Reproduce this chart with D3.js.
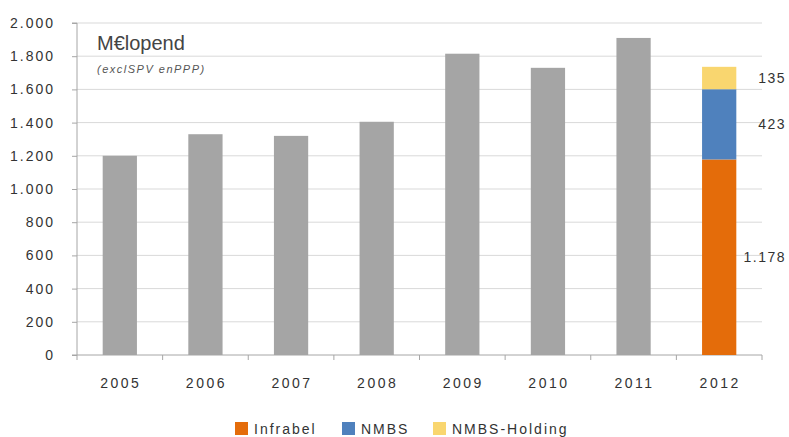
<!DOCTYPE html>
<html>
<head>
<meta charset="utf-8">
<script src="https://cdn.jsdelivr.net/npm/d3@7"></script>
<style>
  body { margin: 0; background: #fff; }
  svg { font-family: 'Liberation Sans', Arial, sans-serif; }
  .axis text { fill: #333; font-size: 14px; letter-spacing: 2px; }
  .grid line { stroke: #d9d9d9; }
</style>
</head>
<body>
<svg width="789" height="437"></svg>
<script>
'use strict';

// data
var years = ['2005', '2006', '2007', '2008', '2009', '2010', '2011', '2012'];
var totals = [1200, 1330, 1320, 1405, 1815, 1730, 1910, null];
var splitYear = '2012';
var splitNames = ['Infrabel', 'NMBS', 'NMBS-Holding'];
var splitValues = [1178, 423, 135];
var splitLabels = ['1.178', '423', '135'];
var yTicks = [0, 200, 400, 600, 800, 1000, 1200, 1400, 1600, 1800, 2000];

var colors = ['#e46c0a', '#4f81bd', '#f9d66f'];
var grey = '#a5a5a5';

var svg = d3.select('svg'),
    plotLeft = 77, plotRight = 762, plotTop = 23, plotBottom = 355;

var fmt = function(v) { return d3.format(',')(v).replace(/,/g, '.'); };

var x = d3.scaleBand().domain(years).range([plotLeft, plotRight]).paddingInner(0.6).paddingOuter(0.3);
var y = d3.scaleLinear().domain([0, 2000]).range([plotBottom, plotTop]);

// gridlines
svg.append('g')
    .attr('class', 'grid')
    .selectAll('line')
    .data(yTicks.slice(1))
    .enter().append('line')
    .attr('x1', plotLeft).attr('x2', plotRight)
    .attr('y1', function(d) { return y(d); })
    .attr('y2', function(d) { return y(d); });

// y axis
var yAxis = svg.append('g')
    .attr('class', 'axis')
    .attr('transform', 'translate(' + plotLeft + ',0)')
    .call(d3.axisLeft(y).tickValues(yTicks).tickFormat(fmt).tickSize(5).tickPadding(17));
yAxis.selectAll('line, path').attr('stroke', '#a6a6a6');
yAxis.select('.domain').attr('d', 'M-5,' + plotBottom + 'H0V' + plotTop + 'H-5');

// x axis with ticks between categories
var xAxisG = svg.append('g')
    .attr('class', 'axis')
    .attr('transform', 'translate(0,' + plotBottom + ')');
xAxisG.append('line').attr('x1', plotLeft).attr('x2', plotRight).attr('stroke', '#a6a6a6');
var bounds = d3.range(years.length + 1).map(function(i) {
    return plotLeft + i * (plotRight - plotLeft) / years.length;
});
xAxisG.selectAll('.tk').data(bounds).enter().append('line')
    .attr('class', 'tk')
    .attr('x1', function(d) { return d; }).attr('x2', function(d) { return d; })
    .attr('y1', 0).attr('y2', 5).attr('stroke', '#a6a6a6');
xAxisG.selectAll('.lbl').data(years).enter().append('text')
    .attr('class', 'lbl')
    .attr('x', function(d) { return x(d) + x.bandwidth() / 2 + 1; })
    .attr('y', 33)
    .attr('text-anchor', 'middle')
    .style('letter-spacing', '2.5px')
    .text(function(d) { return d; });

// grey bars
var plain = years.map(function(d, i) { return {year: d, v: totals[i]}; })
    .filter(function(d) { return d.v !== null; });
svg.selectAll('.bar').data(plain).enter().append('rect')
    .attr('class', 'bar')
    .attr('x', function(d) { return x(d.year); })
    .attr('width', x.bandwidth())
    .attr('y', function(d) { return y(d.v); })
    .attr('height', function(d) { return y(0) - y(d.v); })
    .attr('fill', grey);

// stacked bar
var cum = 0;
var segs = splitValues.map(function(v, i) {
    var s = {y0: cum, y1: cum + v, color: colors[i], label: splitLabels[i]};
    cum += v;
    return s;
});
svg.selectAll('.seg').data(segs).enter().append('rect')
    .attr('class', 'seg')
    .attr('x', x(splitYear))
    .attr('width', x.bandwidth())
    .attr('y', function(d) { return y(d.y1); })
    .attr('height', function(d) { return y(d.y0) - y(d.y1); })
    .attr('fill', function(d) { return d.color; });
svg.selectAll('.seglabel').data(segs).enter().append('text')
    .attr('class', 'seglabel')
    .attr('x', 786)
    .attr('y', function(d) { return y((d.y0 + d.y1) / 2) + 5; })
    .attr('text-anchor', 'end')
    .attr('letter-spacing', '1.5px')
    .attr('font-size', 14)
    .attr('fill', '#333')
    .text(function(d) { return d.label; });

// title
svg.append('text').attr('x', 97).attr('y', 50)
    .attr('font-size', 20).attr('fill', '#444').text('M€lopend');
svg.append('text').attr('x', 97).attr('y', 73)
    .attr('font-size', 11).attr('font-style', 'italic').attr('fill', '#555')
    .attr('letter-spacing', '1.5px')
    .text('(exclSPV enPPP)');

// legend
var legendX = [235, 342, 433];
var lg = svg.selectAll('.lg').data(splitNames).enter().append('g')
    .attr('class', 'lg')
    .attr('transform', function(d, i) { return 'translate(' + legendX[i] + ',422)'; });
lg.append('rect').attr('width', 13).attr('height', 13)
    .attr('fill', function(d, i) { return colors[i]; });
lg.append('text').attr('x', 19).attr('y', 12)
    .attr('font-size', 14).attr('fill', '#333').attr('letter-spacing', '2px')
    .text(function(d) { return d; });
</script>
</body>
</html>
